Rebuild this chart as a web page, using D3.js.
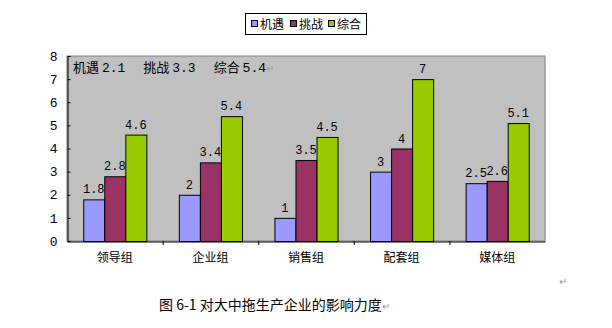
<!DOCTYPE html>
<html>
<head>
<meta charset="utf-8">
<script src="https://cdn.jsdelivr.net/npm/d3@7"></script>
<style>
  html, body { margin: 0; padding: 0; background: #fff; }
  svg { display: block; }
</style>
</head>
<body>
<svg id="chart" width="612" height="328"></svg>
<script>
// Groups along the x axis
const categories = ["领导组", "企业组", "销售组", "配套组", "媒体组"];
// Series names (legend order)
const seriesNames = ["机遇", "挑战", "综合"];
// Values per series, one per group
const opportunity = [1.8, 2, 1, 3, 2.5];
const challenge = [2.8, 3.4, 3.5, 4, 2.6];
const overall = [4.6, 5.4, 4.5, 7, 5.1];
const yTicks = [0, 1, 2, 3, 4, 5, 6, 7, 8];
// Average scores printed inside the plot
const averages = [["机遇", "2.1"], ["挑战", "3.3"], ["综合", "5.4"]];
const caption = "图 6-1 对大中拖生产企业的影响力度";

const seriesValues = [opportunity, challenge, overall];
const colors = ["#9999FF", "#993366", "#99CC00"];
const cjk = "'Noto Sans CJK SC', 'Noto Sans', sans-serif";
const mono = "'Liberation Mono', 'DejaVu Sans Mono', monospace";

const svg = d3.select("#chart");
const plot = { left: 67, top: 56, right: 545, bottom: 241 };

const x = d3.scaleBand().domain(categories).range([plot.left, plot.right]).paddingInner(0).paddingOuter(0);
const bw = x.bandwidth() * 0.66;
const xInner = d3.scaleBand().domain(seriesNames).range([0, bw]);
const y = d3.scaleLinear().domain([0, 8]).range([plot.bottom, plot.top]);

// Plot background
svg.append("rect")
  .attr("x", plot.left).attr("y", plot.top)
  .attr("width", plot.right - plot.left).attr("height", plot.bottom - plot.top)
  .attr("fill", "#C0C0C0").attr("stroke", "#808080").attr("stroke-width", 1);

// Bars
const rows = categories.map((c, i) => ({ cat: c, vals: seriesNames.map((s, k) => ({ s, k, v: seriesValues[k][i] })) }));
const groups = svg.append("g").selectAll("g").data(rows).join("g")
  .attr("transform", d => `translate(${x(d.cat) + (x.bandwidth() - bw) / 2},0)`);

groups.selectAll("rect").data(d => d.vals).join("rect")
  .attr("x", d => xInner(d.s) + 0.5)
  .attr("y", d => y(d.v) + 0.5)
  .attr("width", xInner.bandwidth())
  .attr("height", d => y(0) - y(d.v))
  .attr("fill", d => colors[d.k])
  .attr("stroke", "#000").attr("stroke-width", 1);

groups.selectAll("text").data(d => d.vals).join("text")
  .attr("x", d => xInner(d.s) + xInner.bandwidth() / 2)
  .attr("y", d => y(d.v) - 6)
  .attr("text-anchor", "middle")
  .attr("font-family", mono).attr("font-size", 12)
  .attr("fill", "#000")
  .text(d => d.v);

// Y axis
const yAxis = svg.append("g").attr("transform", `translate(${plot.left + 0.5},0)`)
  .call(d3.axisLeft(y).tickValues(yTicks).tickSize(-3).tickPadding(10).tickFormat(d3.format("d")));
yAxis.select(".domain").attr("stroke", "#000");
yAxis.selectAll(".tick line").attr("stroke", "#000");
yAxis.selectAll("text").attr("font-family", mono).attr("font-size", 13).attr("fill", "#000");

// X axis
const xAxis = svg.append("g").attr("transform", `translate(0,${plot.bottom + 0.5})`)
  .call(d3.axisBottom(x).tickSize(0).tickPadding(12));
xAxis.select(".domain").attr("stroke", "#000");
xAxis.selectAll("text").attr("font-family", cjk).attr("font-size", 12).attr("fill", "#000");
// category separators
svg.append("g").selectAll("line").data(categories.slice(1)).join("line")
  .attr("x1", d => x(d) + 0.5).attr("x2", d => x(d) + 0.5)
  .attr("y1", plot.bottom).attr("y2", plot.bottom + 4)
  .attr("stroke", "#000");

// Averages note
const note = svg.append("text").attr("x", 73).attr("y", 72)
  .attr("font-family", cjk).attr("font-size", 13).attr("fill", "#000");
averages.forEach((a, i) => {
  note.append("tspan").attr("dx", i === 0 ? 0 : 18).text(a[0] + " ");
  note.append("tspan").attr("font-family", mono).text(a[1]);
});
note.append("tspan").attr("fill", "#999").attr("font-size", 10).text("↵");

// Legend
const legend = svg.append("g");
legend.append("rect").attr("x", 245.5).attr("y", 13.5).attr("width", 121).attr("height", 21)
  .attr("fill", "#fff").attr("stroke", "#000");
const legendX = [251, 290, 328];
seriesNames.forEach((s, k) => {
  legend.append("rect").attr("x", legendX[k] + 0.5).attr("y", 20.5).attr("width", 6).attr("height", 6)
    .attr("fill", colors[k]).attr("stroke", "#000");
  legend.append("text").attr("x", legendX[k] + 9).attr("y", 29)
    .attr("font-family", cjk).attr("font-size", 12).attr("fill", "#000").text(s);
});

// Caption
svg.append("text").attr("x", 159).attr("y", 310)
  .attr("font-family", cjk).attr("font-size", 14).attr("fill", "#000")
  .text(caption)
  .append("tspan").attr("fill", "#999").attr("font-size", 10).text("↵");
svg.append("text").attr("x", 559).attr("y", 285)
  .attr("font-family", cjk).attr("font-size", 10).attr("fill", "#999").text("↵");
</script>
</body>
</html>
